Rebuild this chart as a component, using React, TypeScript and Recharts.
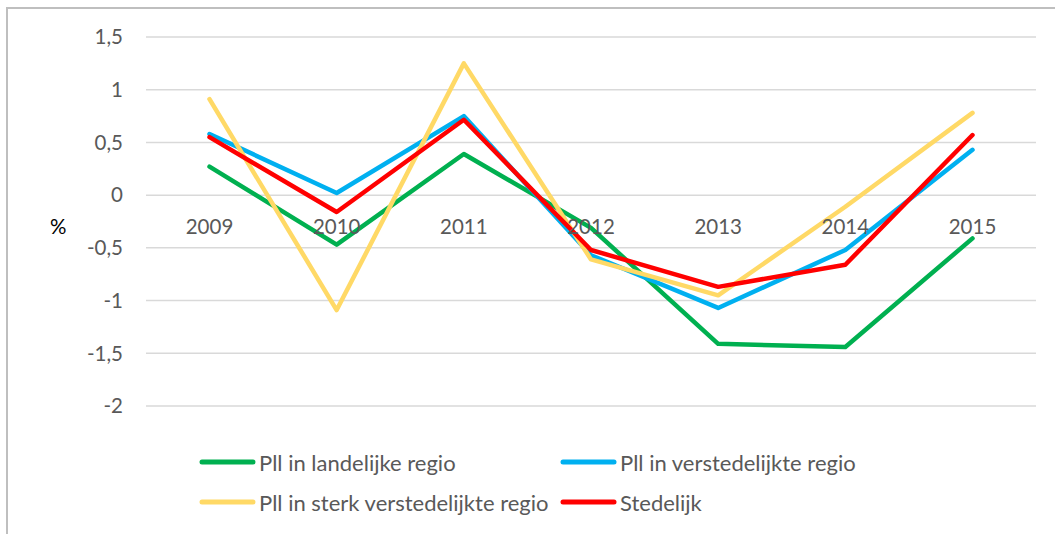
import React from 'react';
import { LineChart, Line, XAxis, YAxis, CartesianGrid, Legend } from 'recharts';

const years = ['2009', '2010', '2011', '2012', '2013', '2014', '2015'];
const landelijk = [0.27, -0.47, 0.39, -0.31, -1.41, -1.44, -0.41];
const verstedelijkt = [0.58, 0.02, 0.75, -0.57, -1.07, -0.52, 0.43];
const sterkVerstedelijkt = [0.91, -1.09, 1.25, -0.61, -0.95, -0.11, 0.78];
const stedelijk = [0.55, -0.16, 0.715, -0.52, -0.87, -0.66, 0.57];
const yTicks = [-2, -1.5, -1, -0.5, 0, 0.5, 1, 1.5];

const seriesNames = [
  'Pll in landelijke regio',
  'Pll in verstedelijkte regio',
  'Pll in sterk verstedelijkte regio',
  'Stedelijk',
];
const seriesColors = ['#00B050', '#00B0F0', '#FFD966', '#FF0000'];

const data = years.map((year, i) => ({
  year,
  landelijk: landelijk[i],
  verstedelijkt: verstedelijkt[i],
  sterk: sterkVerstedelijkt[i],
  stedelijk: stedelijk[i],
}));

const FONT = 'Lato, "Open Sans", sans-serif';
const TEXT_COLOR = '#595959';

const XTick = (props: any) => {
  const { x, y, payload } = props;
  return (
    <text x={x} y={y} dy={-172.5} textAnchor="middle" fill={TEXT_COLOR} fontSize={20.5} fontFamily={FONT}>
      {payload.value}
    </text>
  );
};

const renderLegend = (props: any) => {
  const payload = [...(props.payload || [])].sort(
    (a: any, b: any) => seriesNames.indexOf(a.value) - seriesNames.indexOf(b.value)
  );
  return (
    <div
      style={{
        display: 'grid',
        gridTemplateColumns: '361px 361px',
        rowGap: 16,
        paddingLeft: 197,
        fontFamily: FONT,
        fontSize: 22,
        color: TEXT_COLOR,
      }}
    >
      {payload.map((entry: any) => (
        <div key={entry.value} style={{ display: 'flex', alignItems: 'center', height: 24 }}>
          <svg width={62} height={10} style={{ display: 'block' }}>
            <line x1={5} y1={5} x2={56} y2={5} stroke={entry.color} strokeWidth={5} strokeLinecap="round" />
          </svg>
          <span style={{ whiteSpace: 'nowrap' }}>{entry.value}</span>
        </div>
      ))}
    </div>
  );
};

export default function App() {
  return (
    <div style={{ position: 'absolute', left: 0, top: 0, width: 1055, height: 534, overflow: 'hidden', background: '#fff' }}>
      <div
        style={{
          position: 'absolute',
          left: 6,
          top: 7,
          width: 1200,
          height: 700,
          border: '2px solid #BFBFBF',
          boxSizing: 'border-box',
        }}
      />
      <div style={{ position: 'absolute', left: 0, top: 0 }}>
        <LineChart width={1055} height={534} data={data} margin={{ top: 37, right: 19, bottom: 98, left: 86 }}>
          <CartesianGrid vertical={false} stroke="#D9D9D9" strokeWidth={1.5} />
          <XAxis
            dataKey="year"
            height={30}
            axisLine={false}
            tickLine={false}
            tickSize={0}
            tickMargin={0}
            tick={<XTick />}
            interval={0}
            padding={{ left: 63.5, right: 63.5 }}
          />
          <YAxis
            width={60}
            domain={[-2, 1.5]}
            ticks={yTicks}
            axisLine={false}
            tickLine={false}
            tickSize={0}
            tickMargin={23}
            tick={{ fill: TEXT_COLOR, fontSize: 20.5, fontFamily: FONT }}
            tickFormatter={(v: number) => String(v).replace('.', ',')}
            label={{ value: '%', position: 'insideLeft', offset: -36, dy: 5, fill: '#000', fontSize: 20.5, fontFamily: FONT }}
          />
          <Legend
            content={renderLegend}
            verticalAlign="bottom"
            wrapperStyle={{ top: 450, left: 0, width: 1055, height: 0, overflow: 'visible' }}
          />
          <Line dataKey="landelijk" name={seriesNames[0]} stroke={seriesColors[0]} strokeWidth={4.5} dot={false} strokeLinecap="round" strokeLinejoin="round" isAnimationActive={false} />
          <Line dataKey="verstedelijkt" name={seriesNames[1]} stroke={seriesColors[1]} strokeWidth={4.5} dot={false} strokeLinecap="round" strokeLinejoin="round" isAnimationActive={false} />
          <Line dataKey="sterk" name={seriesNames[2]} stroke={seriesColors[2]} strokeWidth={4.5} dot={false} strokeLinecap="round" strokeLinejoin="round" isAnimationActive={false} />
          <Line dataKey="stedelijk" name={seriesNames[3]} stroke={seriesColors[3]} strokeWidth={4.5} dot={false} strokeLinecap="round" strokeLinejoin="round" isAnimationActive={false} />
        </LineChart>
      </div>
    </div>
  );
}
